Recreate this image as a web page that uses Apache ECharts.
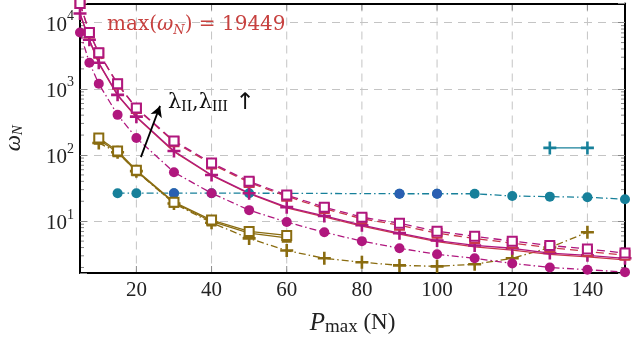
<!DOCTYPE html>
<html>
<head>
<meta charset="utf-8">
<script src="https://cdn.jsdelivr.net/npm/echarts@6/dist/echarts.min.js"></script>
<style>html,body{margin:0;padding:0;background:#fff}#c{width:633px;height:342px}</style>
</head>
<body>
<div id="c"></div>
<script>
// ---- data ----
const xFull = [5, 7.5, 10, 15, 20, 30, 40, 50, 60, 70, 80, 90, 100, 110, 120, 130, 140, 150];
const magSquares = [19449, 7100, 3500, 1190, 515, 163, 76, 40, 24.8, 16.3, 11.5, 9.3, 7.05, 5.9, 5.0, 4.3, 3.8, 3.3];
const redSquares = [19449, 7000, 3450, 1170, 505, 158, 73, 38.5, 23.8, 15.5, 10.9, 8.7, 6.6, 5.5, 4.65, 4.0, 3.5, 3.05];
const magPlus = [13700, 5500, 2470, 810, 380, 115, 50, 26.5, 16.3, 12.0, 8.7, 6.6, 5.1, 4.3, 3.9, 3.3, 3.05, 2.75];
const redSolid = [13500, 5400, 2420, 795, 372, 112, 49, 26, 15.9, 11.6, 8.4, 6.4, 4.9, 4.1, 3.65, 3.15, 2.9, 2.6];
const magCircles = [7100, 2470, 1190, 404, 181, 55, 26.5, 14.7, 9.7, 6.8, 5.0, 3.9, 3.16, 2.75, 2.3, 2.0, 1.85, 1.7];

const xOliveSq = [10, 15, 20, 30, 40, 50, 60];
const oliveSqA = [181, 115, 59, 19.4, 10.4, 7.0, 6.1];
const oliveSqB = [170, 110, 57, 19.0, 9.9, 6.6, 5.6];
const xOlivePlus = [10, 15, 20, 30, 40, 50, 60, 70, 80, 90, 100, 110, 120, 130, 140];
const olivePlus = [152, 110, 57, 18.5, 9.5, 5.5, 3.6, 2.75, 2.4, 2.15, 2.08, 2.24, 2.75, 4.0, 6.8];

const xTeal = [15, 20, 30, 40, 50, 90, 100, 110, 120, 130, 140, 150];
const tealCircles = [26.5, 26.5, 26.5, 26.5, 26.5, 26, 26, 26, 24, 23.5, 23, 21.5];
const xBlue = [30, 90, 100];
const blueCircles = [26.5, 26, 26];
const xTealPlus = [130, 140];
const tealPlus = [128, 128];

const xTickValues = [20, 40, 60, 80, 100, 120, 140];
const yMinorTicks = [2,3,4,5,6,7,8,9,20,30,40,50,60,70,80,90,200,300,400,500,600,700,800,900,2000,3000,4000,5000,6000,7000,8000,9000];
const arrowFrom = [21.2, 93];
const arrowTo = [26.3, 552];

const X_MIN = 5, X_MAX = 150, Y_MIN = 1.65, Y_MAX = 19449;

// ---- style ----
const FONT = 'Liberation Serif';
const WIDE = 'DejaVu Serif';
const MAG = '#b0177e', RED = '#c8384a', OLIVE = '#8a6c10', TEAL = '#17809a', BLUE = '#2a5fb2', TXTRED = '#c7413f';
const PLUS = 'path://M4,0H6V4H10V6H6V10H4V6H0V4H4Z';
const pairs = (xs, ys) => xs.map((x, i) => [x, ys[i]]);

function lineSeries(name, xs, ys, color, symbol, size, dash, extra) {
  const empty = symbol === 'emptyRect';
  return Object.assign({
    name, type: 'line', data: pairs(xs, ys), symbol, symbolSize: size,
    showAllSymbol: true, clip: false,
    lineStyle: { color, width: 1.3, type: dash },
    itemStyle: { color, borderColor: color, borderWidth: empty ? 1.7 : 0 },
    emphasis: { disabled: true }, animation: false
  }, extra || {});
}

const chart = echarts.init(document.getElementById('c'), null, { renderer: 'canvas' });

const option = {
  backgroundColor: '#fff',
  animation: false,
  grid: { left: 80, right: 8, top: 3.5, bottom: 69, containLabel: false, outerBoundsMode: 'none' },
  xAxis: [{
    type: 'value', min: X_MIN, max: X_MAX, interval: 5,
    axisLine: { show: true, onZero: false, lineStyle: { color: '#000', width: 2 } },
    axisTick: { show: false }, splitLine: { show: false },
    axisLabel: {
      margin: 7, color: '#222', fontFamily: FONT, fontSize: 21,
      formatter: v => (Math.abs(v % 20) < 1e-9 && v > X_MIN && v < X_MAX) ? String(v) : ''
    },
    name: '{i|P}{s|max}{r| (N)}', nameLocation: 'middle', nameGap: 38,
    nameTextStyle: {
      rich: {
        i: { fontFamily: FONT, fontSize: 25, fontStyle: 'italic', color: '#222', lineHeight: 26, verticalAlign: 'top' },
        s: { fontFamily: FONT, fontSize: 19, color: '#222', lineHeight: 19, verticalAlign: 'bottom' },
        r: { fontFamily: FONT, fontSize: 23, color: '#222', lineHeight: 26, verticalAlign: 'top' }
      }
    }
  }, {
    type: 'value', position: 'top', min: X_MIN, max: X_MAX, interval: 5,
    axisLine: { show: true, onZero: false, lineStyle: { color: '#000', width: 2 } },
    axisTick: { show: false }, axisLabel: { show: false }, splitLine: { show: false }
  }],
  yAxis: [{
    type: 'log', min: Y_MIN, max: Y_MAX, logBase: 10,
    axisLine: { show: true, onZero: false, lineStyle: { color: '#000', width: 2 } },
    axisTick: { show: true, inside: true, length: 7, lineStyle: { color: '#888' } },
    splitLine: { show: true, lineStyle: { color: '#c4c4c4', type: [8, 6], width: 1 } },
    axisLabel: {
      margin: 6, color: '#222',
      formatter: v => {
        const l = Math.log10(v), e = Math.round(l);
        if (Math.abs(l - e) > 1e-6) return '';
        return '{a|10}{b|' + e + '}';
      },
      rich: {
        a: { fontFamily: FONT, fontSize: 21, color: '#222', lineHeight: 26, verticalAlign: 'bottom' },
        b: { fontFamily: FONT, fontSize: 14, color: '#222', lineHeight: 14, verticalAlign: 'top' }
      }
    },
    name: '{i|ω}{s|N}', nameLocation: 'middle', nameGap: 54, nameRotate: 90,
    nameTextStyle: {
      rich: {
        i: { fontFamily: FONT, fontSize: 23, fontStyle: 'italic', color: '#222', lineHeight: 24, verticalAlign: 'top' },
        s: { fontFamily: FONT, fontSize: 15, fontStyle: 'italic', color: '#222', lineHeight: 15, verticalAlign: 'bottom' }
      }
    }
  }, {
    type: 'log', position: 'right', min: Y_MIN, max: Y_MAX, logBase: 10,
    axisLine: { show: true, onZero: false, lineStyle: { color: '#000', width: 2 } },
    axisTick: { show: true, inside: true, length: 7, lineStyle: { color: '#888' } },
    axisLabel: { show: false }, splitLine: { show: false }
  }],
  graphic: [{
    type: 'text', left: 107, top: 15, z: 100,
    style: {
      text: '{r|max(}{i|ω}{s|N}{r|) = 19449}',
      rich: {
        r: { fontFamily: WIDE, fontSize: 20, fill: TXTRED, lineHeight: 22, verticalAlign: 'top' },
        i: { fontFamily: WIDE, fontSize: 20, fontStyle: 'italic', fill: TXTRED, lineHeight: 22, verticalAlign: 'top' },
        s: { fontFamily: WIDE, fontSize: 13, fontStyle: 'italic', fill: TXTRED, lineHeight: 14, verticalAlign: 'bottom' }
      }
    }
  }, {
    type: 'text', left: 168, top: 92, z: 100,
    style: {
      text: '{r|λ}{s|II}{r|,λ}{s|III}{a| ↑}',
      rich: {
        r: { fontFamily: WIDE, fontSize: 21, fill: '#111', lineHeight: 23, verticalAlign: 'top' },
        s: { fontFamily: FONT, fontSize: 16, fill: '#111', lineHeight: 16, verticalAlign: 'bottom' },
        a: { fontFamily: 'DejaVu Sans', fontSize: 23, fill: '#111', lineHeight: 23, verticalAlign: 'top' }
      }
    }
  }],
  series: [
    // x grid lines + ticks
    {
      type: 'custom', xAxisIndex: 0, yAxisIndex: 0, silent: true, z: 0,
      data: xTickValues.map(v => [v, 10]),
      renderItem: (params, api) => {
        const cs = params.coordSys;
        const px = api.coord([api.value(0), 10])[0];
        return {
          type: 'group', children: [
            { type: 'line', shape: { x1: px, y1: cs.y, x2: px, y2: cs.y + cs.height }, style: { stroke: '#c4c4c4', lineWidth: 1, lineDash: [8, 6] } },
            { type: 'line', shape: { x1: px, y1: cs.y + cs.height, x2: px, y2: cs.y + cs.height - 7 }, style: { stroke: '#888', lineWidth: 1 } },
            { type: 'line', shape: { x1: px, y1: cs.y, x2: px, y2: cs.y + 7 }, style: { stroke: '#888', lineWidth: 1 } }
          ]
        };
      }
    },
    // y minor ticks
    {
      type: 'custom', xAxisIndex: 0, yAxisIndex: 0, silent: true, z: 0,
      data: yMinorTicks.map(v => [10, v]),
      renderItem: (params, api) => {
        const cs = params.coordSys;
        const py = api.coord([10, api.value(1)])[1];
        return {
          type: 'group', children: [
            { type: 'line', shape: { x1: cs.x, y1: py, x2: cs.x + 4, y2: py }, style: { stroke: '#888', lineWidth: 1 } },
            { type: 'line', shape: { x1: cs.x + cs.width - 4, y1: py, x2: cs.x + cs.width, y2: py }, style: { stroke: '#888', lineWidth: 1 } }
          ]
        };
      }
    },
    lineSeries('tealCircles', xTeal, tealCircles, TEAL, 'circle', 10, [7, 3, 1.5, 3]),
    lineSeries('blueCircles', xBlue, blueCircles, BLUE, 'circle', 10, 'solid', { lineStyle: { width: 0, opacity: 0 } }),
    lineSeries('tealPlus', xTealPlus, tealPlus, TEAL, PLUS, 13, 'solid'),
    lineSeries('oliveSqB', xOliveSq, oliveSqB, OLIVE, 'emptyRect', 8, 'solid'),
    lineSeries('olivePlus', xOlivePlus, olivePlus, OLIVE, PLUS, 13, [7, 3, 1.5, 3]),
    lineSeries('oliveSqA', xOliveSq, oliveSqA, OLIVE, 'emptyRect', 9, 'solid'),
    lineSeries('magCircles', xFull, magCircles, MAG, 'circle', 10, [7, 3, 1.5, 3]),
    lineSeries('redSolid', xFull, redSolid, RED, 'none', 0, 'solid'),
    lineSeries('magPlus', xFull, magPlus, MAG, PLUS, 13, 'solid'),
    lineSeries('redSquares', xFull, redSquares, RED, 'emptyRect', 9, [8, 5]),
    lineSeries('magSquares', xFull, magSquares, MAG, 'emptyRect', 9, [8, 5], {
      markLine: {
        silent: true, symbol: ['none', 'arrow'], symbolSize: [9, 11], label: { show: false },
        lineStyle: { color: '#000', width: 1.8, type: 'solid' },
        data: [[{ coord: arrowFrom }, { coord: arrowTo }]]
      }
    })
  ]
};
chart.setOption(option);
</script>
</body>
</html>
